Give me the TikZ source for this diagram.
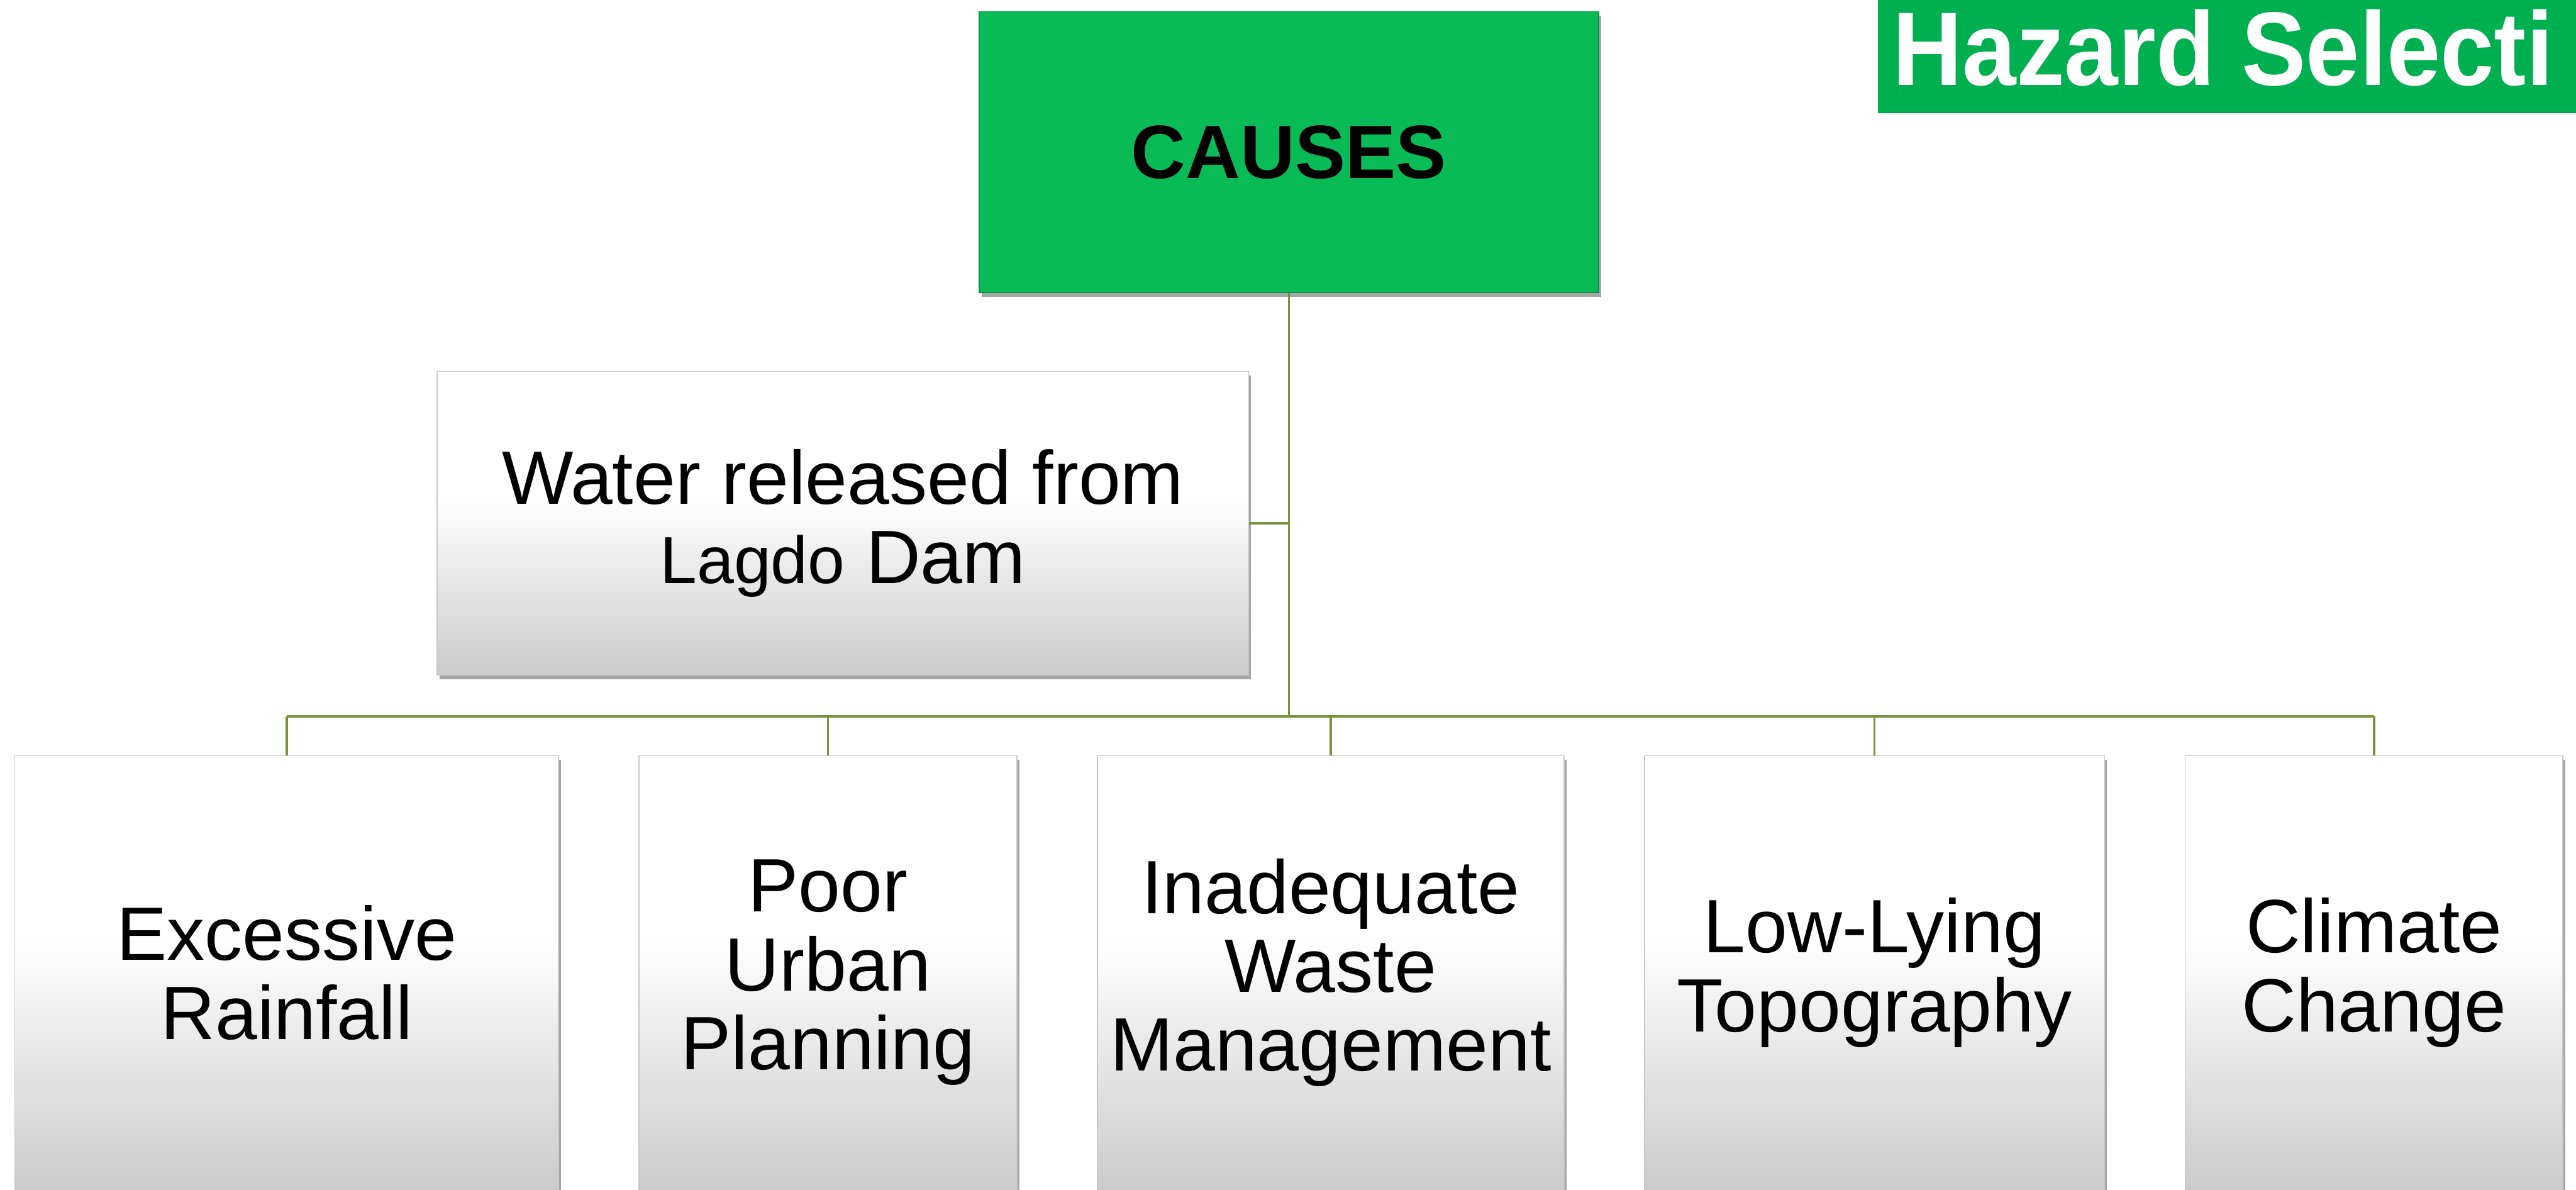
\documentclass[tikz,border=0pt]{standalone}
\usepackage{fontspec}
\setmainfont{Liberation Sans}
\usetikzlibrary{shadows}
\definecolor{linegreen}{HTML}{77933C}
\definecolor{causegreen}{HTML}{08BB56}
\definecolor{titlegreen}{HTML}{00B050}
\definecolor{shadegray}{HTML}{CBCBCB}
\pgfdeclareverticalshading{boxshade}{100bp}{color(0bp)=(shadegray); color(25bp)=(shadegray); color(54bp)=(white); color(100bp)=(white)}
\tikzset{
  bigfont/.style={font=\fontsize{46}{48}\selectfont},
  graybox/.style={draw=black!22, line width=0.6pt, shading=boxshade,
    drop shadow={shadow xshift=1.5pt, shadow yshift=-2.5pt, opacity=0.35, fill=black},
    align=center, inner sep=0pt, bigfont},
  causebox/.style={draw=causegreen!80!black, line width=0.6pt, fill=causegreen,
    drop shadow={shadow xshift=1.5pt, shadow yshift=-2.5pt, opacity=0.35, fill=black},
    align=center, inner sep=0pt, font=\fontsize{46}{48}\selectfont\bfseries},
  conn/.style={draw=linegreen, line width=1.4pt}
}
\begin{document}
\begin{tikzpicture}[x=1pt,y=-1pt]
\useasboundingbox (0,0) rectangle (1568,724);
\clip (0,0) rectangle (1568,724);
\fill[white] (0,0) rectangle (1568,724);

% title
\fill[titlegreen] (1143,0) rectangle (1580,69);
\node[anchor=base west, inner sep=0pt, text=white, font=\fontsize{60}{64}\selectfont\bfseries] (title) at (1152,52) {\scalebox{0.98}[1.06]{Hazard Selecti}};

% nodes
\node[causebox, minimum width=377pt, minimum height=171pt] (causes) at (784.5,92.5) {CAUSES};
\node[graybox, minimum width=494pt, minimum height=185pt] (water) at (513,318.5) {Water released from\\{\fontsize{40.5}{48}\selectfont Lagdo} Dam};

\node[graybox, minimum width=331pt, minimum height=264pt] (b1) at (174.5,592) {Excessive\\Rainfall};
\node[graybox, minimum width=230pt, minimum height=264pt] (b2) at (504,592) {\raisebox{-4pt}{\parbox{220pt}{\centering Poor\\Urban\\Planning}}};
\node[graybox, minimum width=284pt, minimum height=264pt] (b3) at (810,592) {\raisebox{-4pt}{\parbox{280pt}{\centering Inadequate\\Waste\\Management}}};
\node[graybox, minimum width=280pt, minimum height=264pt] (b4) at (1141,592) {Low-Lying\\Topography};
\node[graybox, minimum width=230pt, minimum height=264pt] (b5) at (1445,592) {Climate\\Change};

\coordinate (bus) at (784.5,436);

% connectors
\draw[conn] (causes.south) -- (bus);
\draw[conn] (water.east) -- (water.east -| causes.south);
\draw[conn] (b1.north |- bus) -- (b5.north |- bus);
\draw[conn] (b1.north |- bus) -- (b1.north);
\draw[conn] (b2.north |- bus) -- (b2.north);
\draw[conn] (b3.north |- bus) -- (b3.north);
\draw[conn] (b4.north |- bus) -- (b4.north);
\draw[conn] (b5.north |- bus) -- (b5.north);
\end{tikzpicture}
\end{document}
